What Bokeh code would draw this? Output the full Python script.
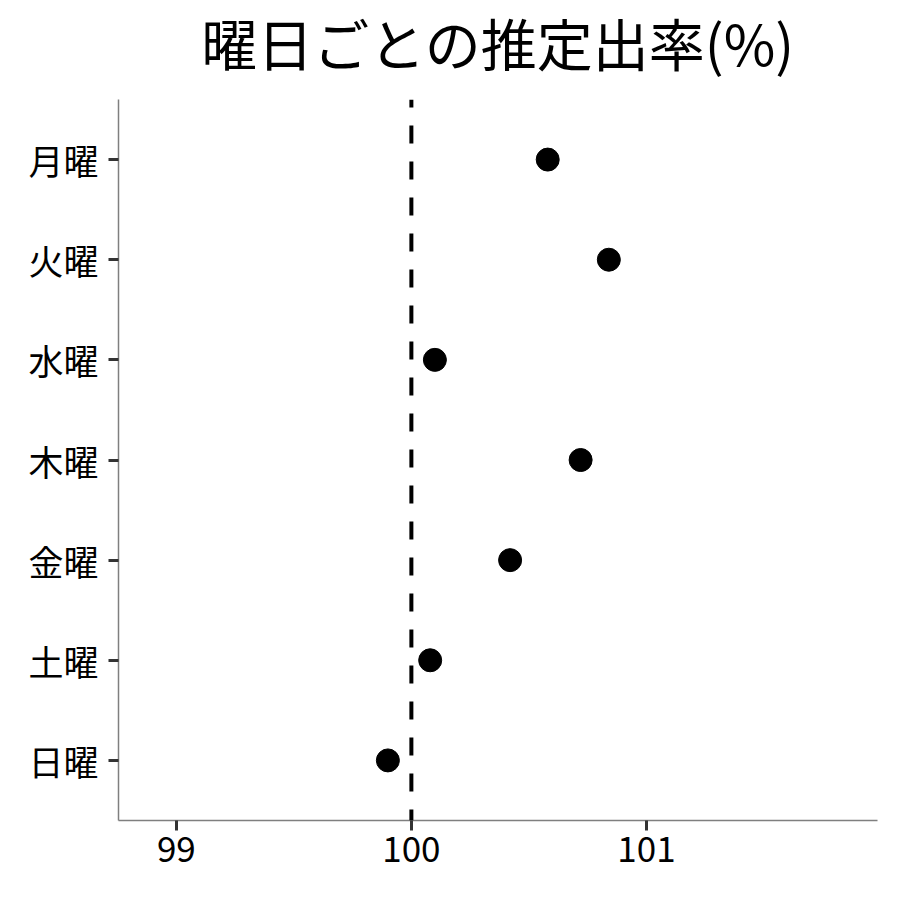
from bokeh.plotting import figure
from bokeh.models import Range1d, FactorRange, Span, FixedTicker, ColumnDataSource
from bokeh.embed import file_html
from bokeh.resources import INLINE

# Data
days = ["月曜", "火曜", "水曜", "木曜", "金曜", "土曜", "日曜"]
rates = [100.58, 100.84, 100.10, 100.72, 100.42, 100.08, 99.90]
x_ticks = [99, 100, 101]
ref_value = 100
title_text = "曜日ごとの推定出率(%)"

FONT = "Noto Sans CJK JP"

src = ColumnDataSource(dict(day=days, rate=rates))

p = figure(
    width=892, height=912,
    output_backend="svg", toolbar_location=None,
    x_range=Range1d(98.754, 101.983),
    y_range=FactorRange(factors=list(reversed(days)), range_padding=0.1,
                        range_padding_units="absolute"),
    min_border_left=118, min_border_right=15,
    min_border_top=100, min_border_bottom=72,
    title=title_text,
)
# pull the whole figure up a little to trim the title panel's empty top
p.styles = {"margin-top": "-20px"}

p.background_fill_color = "white"
p.border_fill_color = "white"
p.outline_line_color = None
p.xgrid.grid_line_color = None
p.ygrid.grid_line_color = None

p.title.text_font = FONT
p.title.text_font_size = "56px"
p.title.text_font_style = "normal"
p.title.align = "center"
p.title.text_color = "black"
p.title.standoff = 36

# reference line
p.add_layout(Span(location=ref_value, dimension="height", line_color="black",
                  line_width=4, line_dash="18 18", line_dash_offset=10))

p.scatter(x="rate", y="day", source=src, size=23, color="black", marker="circle")

for ax in (p.xaxis[0], p.yaxis[0]):
    ax.axis_line_color = "#7f7f7f"
    ax.axis_line_width = 1.5
    ax.major_tick_line_color = "#333333"
    ax.major_tick_line_width = 3
    ax.major_tick_out = 10
    ax.major_tick_in = 0
    ax.minor_tick_line_color = None
    ax.major_label_text_font = FONT
    ax.major_label_text_font_size = "35px"
    ax.major_label_text_color = "black"

p.xaxis.ticker = FixedTicker(ticks=x_ticks)
p.xaxis.major_label_standoff = 5
p.yaxis.major_label_standoff = 10

open("out.html", "w").write(file_html(p, INLINE))
